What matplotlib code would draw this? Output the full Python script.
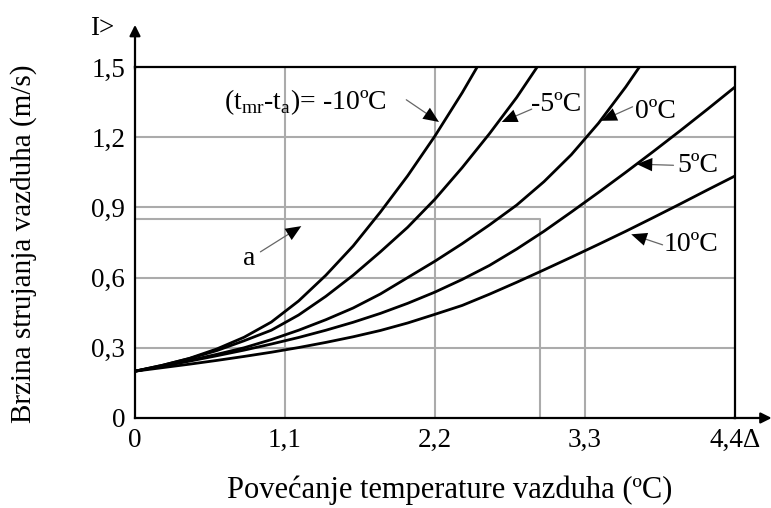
import matplotlib
matplotlib.use('Agg')
import matplotlib.pyplot as plt

plt.rcParams['font.family'] = ['Liberation Serif', 'DejaVu Serif']
plt.rcParams['mathtext.fontset'] = 'custom'
plt.rcParams['mathtext.rm'] = 'Liberation Serif'

# --- data ---
x_m10 = [0, 0.2, 0.4, 0.6, 0.8, 1.0, 1.2, 1.4, 1.6, 1.8, 2.0, 2.2, 2.4, 2.51]
y_m10 = [0.2, 0.225, 0.255, 0.295, 0.345, 0.41, 0.50, 0.61, 0.735, 0.88, 1.035, 1.205, 1.39, 1.5]

x_m5 = [0, 0.2, 0.4, 0.6, 0.8, 1.0, 1.2, 1.4, 1.6, 1.8, 2.0, 2.2, 2.4, 2.6, 2.8, 2.95]
y_m5 = [0.2, 0.225, 0.254, 0.288, 0.33, 0.375, 0.44, 0.52, 0.61, 0.71, 0.815, 0.935, 1.07, 1.215, 1.37, 1.5]

x_0 = [0, 0.2, 0.4, 0.6, 0.8, 1.0, 1.2, 1.4, 1.6, 1.8, 2.0, 2.2, 2.4, 2.6, 2.8, 3.0, 3.2, 3.4, 3.6, 3.7]
y_0 = [0.2, 0.222, 0.246, 0.272, 0.30, 0.335, 0.375, 0.42, 0.47, 0.53, 0.60, 0.67, 0.745, 0.825, 0.91, 1.01,
       1.125, 1.26, 1.415, 1.5]

x_5 = [0, 0.2, 0.4, 0.6, 0.8, 1.0, 1.2, 1.4, 1.6, 1.8, 2.0, 2.2, 2.4, 2.6, 2.8, 3.0, 3.2, 3.4, 3.6, 3.8,
       4.0, 4.2, 4.4]
y_5 = [0.2, 0.221, 0.243, 0.266, 0.29, 0.316, 0.344, 0.375, 0.409, 0.447, 0.49, 0.538, 0.592, 0.652, 0.722,
       0.798, 0.88, 0.964, 1.05, 1.138, 1.228, 1.32, 1.414]

x_10 = [0, 0.2, 0.4, 0.6, 0.8, 1.0, 1.2, 1.4, 1.6, 1.8, 2.0, 2.2, 2.4, 2.6, 2.8, 3.0, 3.2, 3.4, 3.6, 3.8,
        4.0, 4.2, 4.4]
y_10 = [0.2, 0.215, 0.23, 0.246, 0.263, 0.281, 0.301, 0.323, 0.347, 0.374, 0.406, 0.443, 0.481, 0.529, 0.58,
        0.633, 0.687, 0.742, 0.798, 0.856, 0.915, 0.975, 1.034]

x_ticks = [0, 1.1, 2.2, 3.3, 4.4]
x_labels = ['0', '1,1', '2,2', '3,3', '4,4Δ']
y_ticks = [0, 0.3, 0.6, 0.9, 1.2, 1.5]
y_labels = ['0', '0,3', '0,6', '0,9', '1,2', '1,5']

# point "a" (reading example)
a_x, a_y = 2.97, 0.85

# curve labels: (text, text centre, arrow start, arrow tip)
labels = [
    (r'(t$_{\rm mr}$-t$_{\rm a}$)= -10ºC', (1.25, 1.35), (1.99, 1.36), (2.23, 1.265)),
    ('-5ºC', (3.09, 1.34), (2.91, 1.32), (2.69, 1.265)),
    ('0ºC', (3.82, 1.31), (3.65, 1.33), (3.42, 1.27)),
    ('5ºC', (4.13, 1.08), (3.95, 1.08), (3.68, 1.085)),
    ('10ºC', (4.08, 0.74), (3.87, 0.74), (3.64, 0.785)),
    ('a', (0.84, 0.68), (0.92, 0.71), (1.22, 0.82)),
]

fig = plt.figure(figsize=(7.71, 5.08), dpi=100)
ax = fig.add_axes([0.1751, 0.1772, 0.778, 0.6909])

grid_c = '#ababab'
for gx in x_ticks[1:-1]:
    ax.axvline(gx, color=grid_c, lw=1.5, zorder=1)
for gy in y_ticks[1:-1]:
    ax.axhline(gy, color=grid_c, lw=1.5, zorder=1)
ax.plot([0, a_x, a_x], [a_y, a_y, 0], color=grid_c, lw=1.5, zorder=1)

for xs, ys in [(x_m10, y_m10), (x_m5, y_m5), (x_0, y_0), (x_5, y_5), (x_10, y_10)]:
    ax.plot(xs, ys, color='black', lw=2.0, zorder=3, solid_joinstyle='round')

ax.set_xlim(0, 4.4)
ax.set_ylim(0, 1.5)
ax.set_xticks(x_ticks)
ax.set_xticklabels(x_labels)
ax.set_yticks(y_ticks)
ax.set_yticklabels(y_labels)
ax.tick_params(length=0, labelsize=19.5, pad=7)
for s in ax.spines.values():
    s.set_linewidth(1.6)
    s.set_color('black')
    s.set_zorder(4)

for txt, (tx, ty), (sx, sy), (px, py) in labels:
    ax.text(tx, ty, txt, ha='center', va='center', fontsize=20, zorder=5)
    # thin grey leader line, solid black head
    ax.annotate('', xy=(px, py), xytext=(sx, sy), zorder=5,
                arrowprops=dict(arrowstyle='-', color='#666666', lw=0.9,
                                shrinkA=0, shrinkB=4))
    ax.annotate('', xy=(px, py), xytext=(sx, sy), zorder=5,
                arrowprops=dict(arrowstyle='-|>,head_length=0.7,head_width=0.3', color='black',
                                lw=0.0, mutation_scale=16, shrinkA=0, shrinkB=0))

# axis arrows
ax.annotate('', xy=(0, 1.68), xytext=(0, 1.49), annotation_clip=False,
            arrowprops=dict(arrowstyle='-|>', color='black', lw=1.6,
                            mutation_scale=16, shrinkA=0, shrinkB=0))
ax.annotate('', xy=(4.67, 0), xytext=(4.39, 0), annotation_clip=False,
            arrowprops=dict(arrowstyle='-|>', color='black', lw=1.6,
                            mutation_scale=16, shrinkA=0, shrinkB=0))
ax.text(-0.24, 1.665, 'I>', fontsize=19.5, ha='center', va='center')

fig.text(450 / 771, 1 - 490 / 508, 'Povećanje temperature vazduha (ºC)',
         fontsize=22, ha='center', va='center')
fig.text(24 / 771, 1 - 244 / 508, 'Brzina strujanja vazduha (m/s)',
         fontsize=21, ha='center', va='center', rotation=90)

fig.savefig('out.png', dpi=100)
